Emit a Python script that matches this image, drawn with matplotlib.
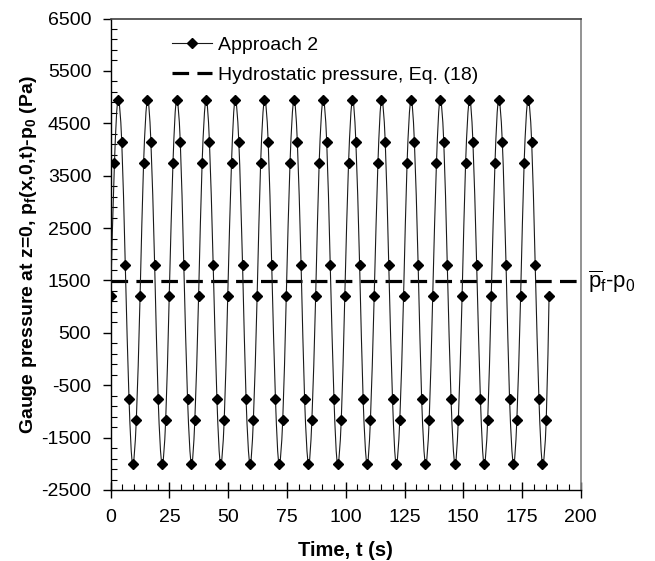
'''
Gauge pressure at z=0 versus time, Approach 2 against the hydrostatic level.
'''

import numpy as np
import matplotlib
matplotlib.use('Agg')
from matplotlib import pyplot as plt
from matplotlib.path import Path
from matplotlib.patches import PathPatch
from matplotlib.lines import Line2D


#(0) Data:
t = [  0.0,   1.6,   3.1,   4.7,   6.2,   7.8,   9.3,  10.9,
      12.5,  14.0,  15.6,  17.1,  18.7,  20.2,  21.8,  23.4,
      24.9,  26.5,  28.0,  29.6,  31.1,  32.7,  34.3,  35.8,
      37.4,  38.9,  40.5,  42.0,  43.6,  45.2,  46.7,  48.3,
      49.8,  51.4,  52.9,  54.5,  56.1,  57.6,  59.2,  60.7,
      62.3,  63.8,  65.4,  67.0,  68.5,  70.1,  71.6,  73.2,
      74.7,  76.3,  77.9,  79.4,  81.0,  82.5,  84.1,  85.6,
      87.2,  88.7,  90.3,  91.9,  93.4,  95.0,  96.5,  98.1,
      99.6, 101.2, 102.8, 104.3, 105.9, 107.4, 109.0, 110.5,
     112.1, 113.7, 115.2, 116.8, 118.3, 119.9, 121.4, 123.0,
     124.6, 126.1, 127.7, 129.2, 130.8, 132.3, 133.9, 135.5,
     137.0, 138.6, 140.1, 141.7, 143.2, 144.8, 146.4, 147.9,
     149.5, 151.0, 152.6, 154.1, 155.7, 157.3, 158.8, 160.4,
     161.9, 163.5, 165.0, 166.6, 168.2, 169.7, 171.3, 172.8,
     174.4, 175.9, 177.5, 179.1, 180.6, 182.2, 183.7, 185.3,
     186.5]
p = [1200, 3750, 4950, 4150, 1800, -770, -2000, -1160,
     1200, 3750, 4950, 4150, 1800, -770, -2000, -1160,
     1200, 3750, 4950, 4150, 1800, -770, -2000, -1160,
     1200, 3750, 4950, 4150, 1800, -770, -2000, -1160,
     1200, 3750, 4950, 4150, 1800, -770, -2000, -1160,
     1200, 3750, 4950, 4150, 1800, -770, -2000, -1160,
     1200, 3750, 4950, 4150, 1800, -770, -2000, -1160,
     1200, 3750, 4950, 4150, 1800, -770, -2000, -1160,
     1200, 3750, 4950, 4150, 1800, -770, -2000, -1160,
     1200, 3750, 4950, 4150, 1800, -770, -2000, -1160,
     1200, 3750, 4950, 4150, 1800, -770, -2000, -1160,
     1200, 3750, 4950, 4150, 1800, -770, -2000, -1160,
     1200, 3750, 4950, 4150, 1800, -770, -2000, -1160,
     1200, 3750, 4950, 4150, 1800, -770, -2000, -1160,
     1200, 3750, 4950, 4150, 1800, -770, -2000, -1160,
     1200]
p_hydro   = 1480      # hydrostatic pressure, Eq. (18)
t_range   = [0, 200]
xticks    = [0, 25, 50, 75, 100, 125, 150, 175, 200]
yticks    = [-2500, -1500, -500, 500, 1500, 2500, 3500, 4500, 5500, 6500]



#(1) Style:
plt.rcParams['font.family']        = ['Liberation Sans', 'DejaVu Sans']
plt.rcParams['mathtext.fontset']   = 'custom'
plt.rcParams['mathtext.rm']        = 'Liberation Sans'
plt.rcParams['mathtext.it']        = 'Liberation Sans:italic'
plt.rcParams['mathtext.bf']        = 'Liberation Sans:bold'
plt.rcParams['axes.unicode_minus'] = False


def smooth_path(x, y):
	'''Bezier path through the points (spreadsheet-style smoothed line).'''
	P     = np.column_stack([x, y]).astype(float)
	verts = [P[0]]
	codes = [Path.MOVETO]
	n     = len(P)
	for i in range(n-1):
		p0 = P[max(i-1, 0)]
		p3 = P[min(i+2, n-1)]
		c1 = P[i]   + (P[i+1] - p0) / 6
		c2 = P[i+1] - (p3 - P[i]) / 6
		verts += [c1, c2, P[i+1]]
		codes += [Path.CURVE4]*3
	return Path(verts, codes)



#(2) Plot:
plt.close('all')
fig = plt.figure(figsize=(6.55, 5.61), dpi=100)
ax  = fig.add_axes([0.169, 0.1266, 0.7177, 0.8404])

ax.add_patch(PathPatch(smooth_path(t, p), fc='none', ec='#1a1a1a', lw=0.8, zorder=3))
ax.plot(t, p, ls='none', marker='D', ms=4.6, mfc='k', mec='k', zorder=4)
ax.plot(t_range, [p_hydro, p_hydro], color='k', lw=2.3, ls=(0, (5.2, 2.6)), zorder=2)

ax.set_xlim(t_range)
ax.set_ylim(yticks[0], yticks[-1])
ax.set_xticks(xticks)
ax.set_xticks(np.arange(0, 201, 5), minor=True)
ax.set_yticks(yticks)
ax.set_yticks(np.arange(-2500, 6501, 200), minor=True)
ax.tick_params(axis='x', which='major', direction='inout', length=11, width=1.0,
               labelsize=14, pad=8)
ax.tick_params(axis='y', which='major', direction='out', length=6, width=1.0,
               labelsize=14, pad=8)
ax.tick_params(which='minor', direction='in', length=4, width=0.8)

for s in ['left', 'bottom']:
	ax.spines[s].set_color('k')
	ax.spines[s].set_linewidth(1.0)
ax.spines['top'].set_color('#404040')
ax.spines['right'].set_color('#808080')
ax.spines['top'].set_linewidth(1.2)
ax.spines['right'].set_linewidth(1.2)

ax.set_xlabel('Time, t (s)', size=14.5, weight='bold', labelpad=11)
ax.set_ylabel(r'Gauge pressure at z=0, p$_\mathbf{f}$(x,0,t)-p$_\mathbf{0}$ (Pa)',
              size=14, weight='bold', labelpad=1.5)

ax.text(1.015, p_hydro, r'$\overline{\mathrm{p}}_\mathrm{f}$-p$_0$', size=16,
        va='center', ha='left', transform=ax.get_yaxis_transform())

handles = [Line2D([], [], color='#1a1a1a', lw=0.8, marker='D', ms=4.6, mfc='k', mec='k'),
           Line2D([], [], color='k', lw=2.3, ls=(0, (5.2, 2.6)))]
labels  = ['Approach 2', 'Hydrostatic pressure, Eq. (18)']
leg = ax.legend(handles, labels, loc='upper left', bbox_to_anchor=(0.13, 0.962),
                frameon=False, fontsize=14, handlelength=2.05, handletextpad=0.35,
                labelspacing=0.65, borderpad=0, borderaxespad=0)

plt.savefig('out.png', dpi=100)
